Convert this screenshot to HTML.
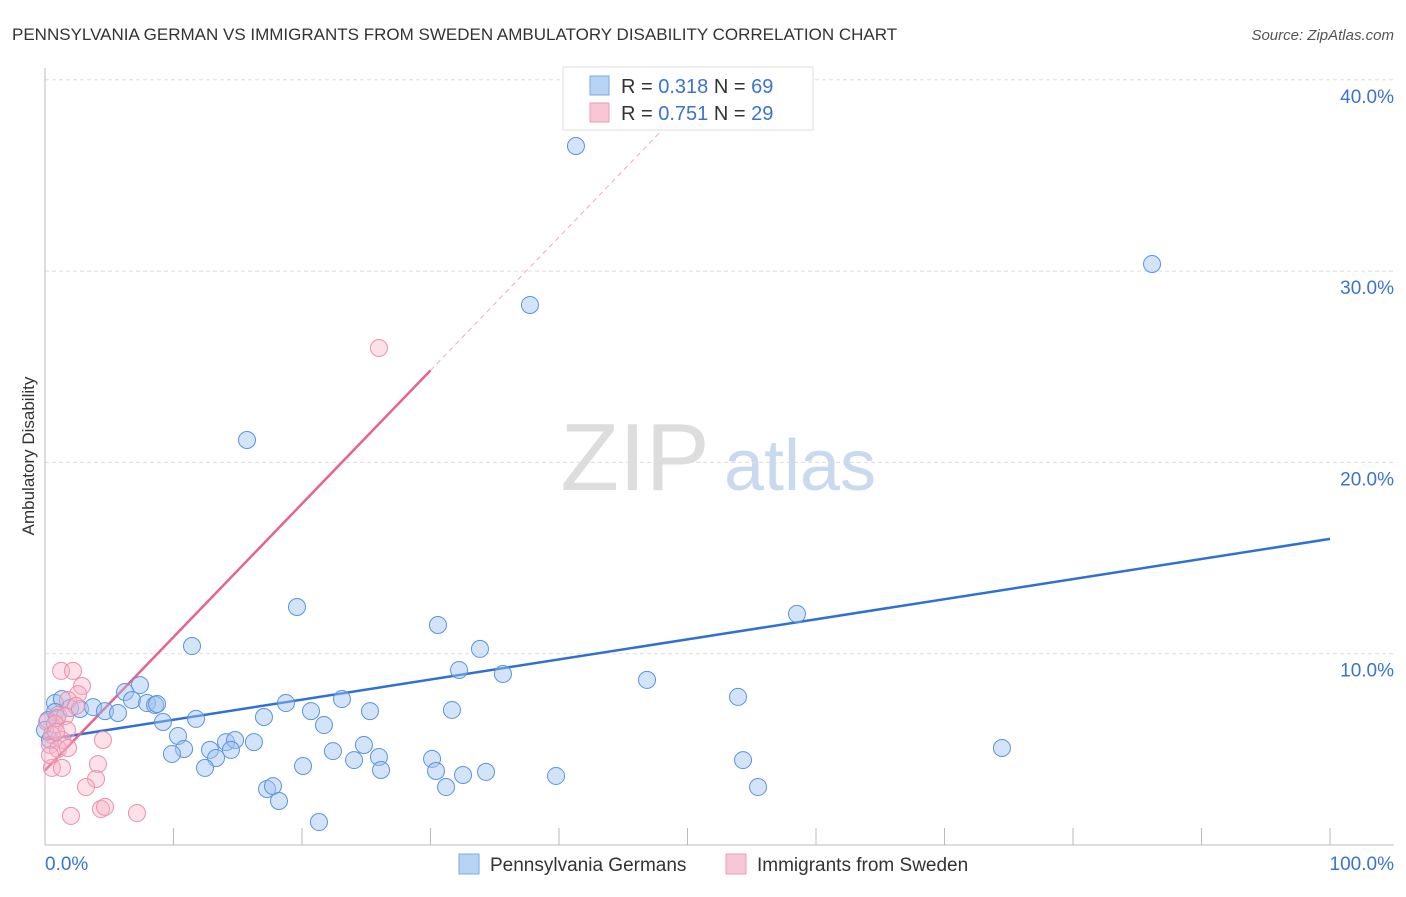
<!DOCTYPE html>
<html><head><meta charset="utf-8"><style>
body{margin:0;background:#fff;font-family:"Liberation Sans",sans-serif}
svg text{font-family:"Liberation Sans",sans-serif}
</style></head><body>
<svg width="1406" height="892">
<text x="12" y="40" font-size="17" fill="#333">PENNSYLVANIA GERMAN VS IMMIGRANTS FROM SWEDEN AMBULATORY DISABILITY CORRELATION CHART</text>
<text x="1394" y="40" font-size="15" fill="#555" font-style="italic" text-anchor="end">Source: ZipAtlas.com</text>
<text x="34" y="456" font-size="17" fill="#333" text-anchor="middle" transform="rotate(-90 34 456)">Ambulatory Disability</text>
<g><text x="635" y="490" font-size="96" fill="#ddd" font-family="Liberation Serif" text-anchor="middle">ZIP</text><text x="800" y="490" font-size="72" fill="#c9d9ef" text-anchor="middle">atlas</text></g>
<g id="grid"></g><g id="axes"></g><g id="lines"></g><g id="pts"></g>
<g>
<rect x="563" y="67" width="250" height="63" fill="#fff" stroke="#ddd"/>
<rect x="590" y="76" width="19" height="19" fill="#b8d4f5" stroke="#7aa8e0"/>
<rect x="590" y="103" width="19" height="19" fill="#f9c6d5" stroke="#ee9ab5"/>
<text x="621" y="93" font-size="20" fill="#333">R = <tspan fill="#3b74cc">0.318</tspan>   N = <tspan fill="#3b74cc">69</tspan></text>
<text x="621" y="120" font-size="20" fill="#333">R = <tspan fill="#3b74cc">0.751</tspan>   N = <tspan fill="#3b74cc">29</tspan></text>
</g>
<g>
<rect x="459" y="854" width="20" height="20" fill="#b8d4f5" stroke="#7aa8e0"/>
<text x="490" y="871" font-size="19" fill="#333">Pennsylvania Germans</text>
<rect x="726" y="854" width="20" height="20" fill="#f9c6d5" stroke="#ee9ab5"/>
<text x="757" y="871" font-size="19" fill="#333">Immigrants from Sweden</text>
</g>
</svg>
<script>
const yTicks=[10,20,30,40];
const yTickLabels=["10.0%","20.0%","30.0%","40.0%"];
const xTickLabels=["0.0%","100.0%"];
const bluePx=[[576,146],[1152,264],[530,305],[247,440],[797,614],[297,607],[438,625],[480,649],[192,646],[459,670],[503,674],[647,680],[738,697],[140,685],[125,692],[55,703],[62,699],[70,708],[80,709],[93,707],[105,711],[118,713],[132,700],[147,703],[155,705],[157,704],[196,719],[163,722],[264,717],[286,703],[311,711],[342,699],[370,711],[452,710],[324,725],[178,736],[226,742],[235,740],[254,742],[184,749],[210,750],[231,750],[172,754],[216,758],[205,768],[333,751],[364,745],[354,760],[379,757],[381,770],[432,759],[436,771],[463,775],[486,772],[446,787],[556,776],[743,760],[758,787],[1002,748],[303,766],[267,789],[273,786],[279,801],[319,822],[55,712],[48,720],[45,730],[57,718],[50,740]];
const pinkPx=[[61,671],[73,671],[82,686],[78,694],[68,700],[76,706],[58,715],[65,716],[47,722],[55,724],[52,735],[67,730],[50,745],[62,740],[58,749],[68,748],[103,740],[52,768],[62,768],[98,764],[96,779],[86,787],[101,809],[105,807],[71,816],[137,813],[379,348],[50,755],[56,732]];
// data values (percent) derived from the reading
const blueX=bluePx.map(p=>+((p[0]-45)/12.85).toFixed(2));
const blueY=bluePx.map(p=>+((845-p[1])/19.13).toFixed(2));
const pinkX=pinkPx.map(p=>+((p[0]-45)/12.85).toFixed(2));
const pinkY=pinkPx.map(p=>+((845-p[1])/19.13).toFixed(2));
const blueTrend=[5.5,16.0];
const pinkTrend=[3.9,0.697];
const X=v=>45+v*12.85, Y=v=>845-v*19.13;
const NS="http://www.w3.org/2000/svg";
function mk(tag,attrs,parent){const e=document.createElementNS(NS,tag);for(const k in attrs)e.setAttribute(k,attrs[k]);document.getElementById(parent).appendChild(e);return e;}
yTicks.forEach((t,i)=>{
 const l=mk('line',{x1:45,x2:1394,y1:Y(t),y2:Y(t),stroke:'#ddd','stroke-dasharray':'4,3'},'grid');
 
 
 const tx=mk('text',{x:1394,y:Y(t)+23,'font-size':19,fill:'#3b74cc','text-anchor':'end'},'grid');
 tx.textContent=yTickLabels[i];
 
 
});
const ax=mk('line',{x1:45,x2:45,y1:68,y2:845,stroke:'#bbb'},'axes');


const bx=mk('line',{x1:45,x2:1394,y1:845,y2:845,stroke:'#bbb'},'axes');


for(let i=1;i<=10;i++){const t=mk('line',{x1:X(i*10),x2:X(i*10),y1:828,y2:845,stroke:'#bbb'},'axes');
 
 }
[[0,'start',45],[1,'end',1394]].forEach(a=>{const t=mk('text',{x:a[2],y:870,'font-size':19,fill:'#3b74cc','text-anchor':a[1]},'axes');t.textContent=xTickLabels[a[0]];
 
 });
const bl=mk('line',{x1:X(0),y1:Y(blueTrend[0]),x2:X(100),y2:Y(blueTrend[1]),stroke:'#2f6fd6','stroke-width':2.5},'lines');


const pl=mk('line',{x1:X(0),y1:Y(pinkTrend[0]),x2:X(30),y2:Y(pinkTrend[0]+30*pinkTrend[1]),stroke:'#e8628c','stroke-width':2.5},'lines');


const pd=mk('line',{x1:X(30),y1:Y(pinkTrend[0]+30*pinkTrend[1]),x2:X(48.5),y2:Y(pinkTrend[0]+48.5*pinkTrend[1]),stroke:'#eeaabf','stroke-width':1,'stroke-dasharray':'5,4'},'lines');


blueX.forEach((x,i)=>{const c=mk('circle',{cx:X(x),cy:Y(blueY[i]),r:8.5,fill:'rgba(160,195,240,0.45)',stroke:'#5b93dd','stroke-width':1},'pts');
 
 });
pinkX.forEach((x,i)=>{const c=mk('circle',{cx:X(x),cy:Y(pinkY[i]),r:8.5,fill:'rgba(248,180,200,0.4)',stroke:'#ec8fae','stroke-width':1},'pts');
 
 });
</script>
</body></html>
